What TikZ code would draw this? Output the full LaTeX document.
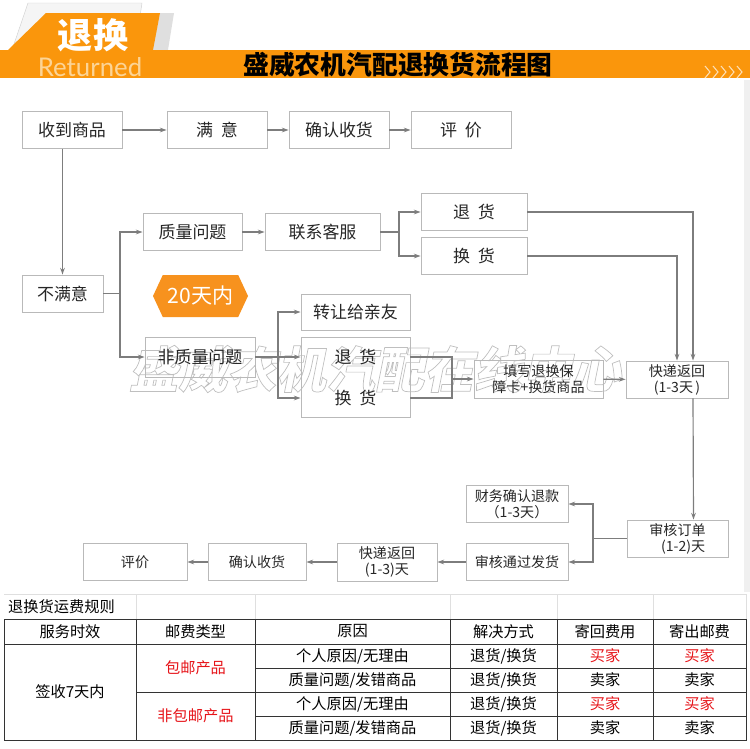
\documentclass[tikz,border=0pt]{standalone}
\usepackage{fontspec}
\setmainfont{Noto Sans CJK SC}
\newfontfamily\latinfont{Lato}
\newfontfamily\wmfont[FakeSlant=0.2]{Noto Sans CJK SC}
\definecolor{orng}{RGB}{250,150,12}
\definecolor{hexorng}{RGB}{247,146,30}
\definecolor{lineg}{RGB}{125,125,125}
\definecolor{boxg}{RGB}{185,185,185}
\definecolor{txtred}{RGB}{230,20,25}
\definecolor{engtxt}{RGB}{252,212,150}
\usetikzlibrary{positioning,calc,arrows.meta,shapes.symbols}

\begin{document}
\begin{tikzpicture}[x=0.3mm,y=-0.3mm,
    box/.style={rectangle, draw=boxg, line width=0.8pt, minimum height=11.1mm, inner sep=1pt, font=\fontsize{14.5}{16}\selectfont, text=black!85},
    sbox/.style={box, align=center, font=\fontsize{12}{13.6}\selectfont},
    lbl/.style={inner sep=1pt, font=\fontsize{14.5}{16}\selectfont, text=black!85},
    arr/.style={draw=lineg, line width=1pt, -{Stealth[length=2mm,width=1.4mm]}},
    ln/.style={draw=lineg, line width=1pt},
    cell/.style={inner sep=0pt, font=\fontsize{13}{14}\selectfont},
    tline/.style={draw=black!80, line width=0.6pt}]

    \useasboundingbox (0,0) rectangle (750,748);

    % header
    \filldraw[fill=gray!8, draw=gray!35] (28,3) -- (142,3) -- (135,50) -- (12,50) -- cycle;
    \fill[gray!25] (160,13) -- (174,13) -- (168,50) -- (152,50) -- cycle;
    \fill[orng] (46,13) -- (160,13) -- (153,50) -- (8,50) -- cycle;
    \fill[orng] (0,50) rectangle (750,78);
    \node[text=white, font=\fontsize{30}{30}\bfseries] (tag) at (93,35) {退换};
    \node[text=engtxt, font=\latinfont\fontsize{22}{22}\selectfont] (eng) at (90,67) {Returned};
    \node[font=\fontsize{22}{22}\bfseries] (head) at (398,65) {盛威农机汽配退换货流程图};
    \foreach \i in {0,...,4}
        \draw[orng!30!white, line width=0.9pt] (705+8*\i,66) -- ++(5,6) -- ++(-5,6);
    \fill[gray!12] (744,80) rectangle (750,592);

    % watermark, outlined letters
    \node[text=gray!50, font=\wmfont\bfseries\fontsize{42}{42}\selectfont] (wm) at (375,369)
        {\special{pdf:code q 1 Tr 0.6 w}盛威农机汽配在线中心\special{pdf:code Q}};

    % flow
    \node[box, minimum width=30mm] (get) at (72,130) {收到商品};
    \node[box, minimum width=30mm] (ok) at (217,130) {满\hspace{0.45em}意};
    \node[box, minimum width=30mm] (confirm) at (339,130) {确认收货};
    \node[box, minimum width=30mm] (rate) at (461,130) {评\hspace{0.45em}价};
    \node[box, minimum width=24.3mm] (unsat) at (62.5,293.5) {不满意};
    \node[box, minimum width=29.7mm] (qual) at (192.5,232) {质量问题};
    \node[box, minimum width=34.5mm] (svc) at (322.5,232) {联系客服};
    \node[box, minimum width=31.8mm] (ret) at (474,212) {退\hspace{0.45em}货};
    \node[box, minimum width=31.8mm] (exch) at (474,256) {换\hspace{0.45em}货};
    \node[signal, signal to=east and west, signal pointer angle=130, fill=hexorng, text=white,
        minimum width=28.5mm, minimum height=12.6mm, inner sep=0pt, font=\fontsize{18}{18}\selectfont] (days) at (200.5,296) {20天内};
    \node[box, minimum width=33mm, minimum height=12mm] (nonq) at (200,357) {非质量问题};
    \node[box, minimum width=32.7mm, minimum height=10.8mm] (gift) at (355.5,312) {转让给亲友};
    \node[box, minimum width=32.7mm, minimum height=24mm] (pair) at (355.5,377) {};
    \node[lbl] (ret2) at (355.5,357) {退\hspace{0.45em}货};
    \node[lbl] (exch2) at (355.5,398) {换\hspace{0.45em}货};
    \node[sbox, minimum width=38.7mm, minimum height=11.4mm] (card) at (538.5,379) {填写退换保\\障卡+换货商品};
    \node[sbox, minimum width=30.6mm] (back) at (677,379.5) {快递返回\\(1-3天\,)};
    \node[sbox, minimum width=30.3mm] (audit) at (677.5,538.5) {审核订单\\\hspace*{0.8em}(1-2)天};
    \node[sbox, minimum width=30.6mm] (refund) at (517,504) {财务确认退款\\（1-3天）};
    \node[sbox, minimum width=30.6mm] (ship) at (517,562) {审核通过发货};
    \node[sbox, minimum width=30mm, minimum height=11.4mm] (back2) at (387,562) {快递返回\\(1-3)天};
    \node[sbox, minimum width=29.4mm] (confirm2) at (257,562) {确认收货};
    \node[sbox, minimum width=31.2mm] (rate2) at (135,562) {评价};

    \draw[arr] (get) -- (ok);
    \draw[arr] (ok) -- (confirm);
    \draw[arr] (confirm) -- (rate);
    \draw[arr] (unsat |- get.south) -- (unsat);
    \coordinate (j1) at (120,293.5);
    \draw[ln] (unsat) -- (j1);
    \draw[arr] (j1) |- (qual);
    \draw[arr] (j1) |- (nonq);
    \draw[arr] (qual) -- (svc);
    \coordinate (j2) at (399,232);
    \draw[ln] (svc) -- (j2);
    \draw[arr] (j2) |- (ret);
    \draw[arr] (j2) |- (exch);
    \draw[arr] (ret) -| ([xshift=4.8mm]back.north);
    \draw[arr] (exch) -| (back);
    \draw[arr] ([xshift=4.8mm]back.south) -- ([xshift=4.8mm]audit.north);
    \coordinate (j3) at (278,357);
    \draw[ln] (nonq) -- (j3);
    \draw[arr] (j3) |- (gift);
    \draw[arr] (j3) -- (pair.west |- ret2);
    \draw[arr] (j3) |- (pair.west |- exch2);
    \coordinate (j4) at (452,379);
    \draw[ln] (pair.east |- ret2) -| (j4) |- (pair.east |- exch2);
    \draw[arr] (j4) -- (card);
    \draw[arr] (card) -- (back);
    \coordinate (j5) at (593,538.5);
    \draw[ln] (audit) -- (j5);
    \draw[arr] (j5) |- (refund);
    \draw[arr] (j5) |- (ship);
    \draw[arr] (ship) -- (back2);
    \draw[arr] (back2) -- (confirm2);
    \draw[arr] (confirm2) -- (rate2);

    % table
    \node[cell, anchor=west] (tabt) at (8,607) {退换货运费规则};
    \draw[gray!25] (4,594) -- (746,594);
    \foreach \x in {136,255,450,557,653,746}
        \draw[gray!25] (\x,594) -- (\x,619);
    \draw[tline] (4,619) rectangle (746,740);
    \draw[tline] (4,644) -- (746,644);
    \draw[tline] (255,668) -- (746,668);
    \draw[tline] (136,692) -- (746,692);
    \draw[tline] (255,716) -- (746,716);
    \foreach \x in {136,255,450,557,653}
        \draw[tline] (\x,619) -- (\x,740);
    \foreach \x/\t [count=\i] in {70/服务时效,195.5/邮费类型,352.5/原因,503.5/解决方式,605/寄回费用,699.5/寄出邮费}
        \node[cell] (h\i) at (\x,631.5) {\t};
    \node[cell] (term) at (70,692) {签收7天内};
    \node[cell, text=txtred] (free) at (195.5,668) {包邮产品};
    \node[cell, text=txtred] (paid) at (195.5,716) {非包邮产品};
    \foreach \y/\r/\c/\p [count=\i] in {656/{个人原因/无理由}/txtred/买家, 680/{质量问题/发错商品}/black/卖家,
            704/{个人原因/无理由}/txtred/买家, 728/{质量问题/发错商品}/black/卖家} {
        \node[cell] (r\i) at (352.5,\y) {\r};
        \node[cell] (s\i) at (503.5,\y) {退货/换货};
        \node[cell, text=\c] (b\i) at (605,\y) {\p};
        \node[cell, text=\c] (o\i) at (699.5,\y) {\p};
    }
\end{tikzpicture}
\end{document}
